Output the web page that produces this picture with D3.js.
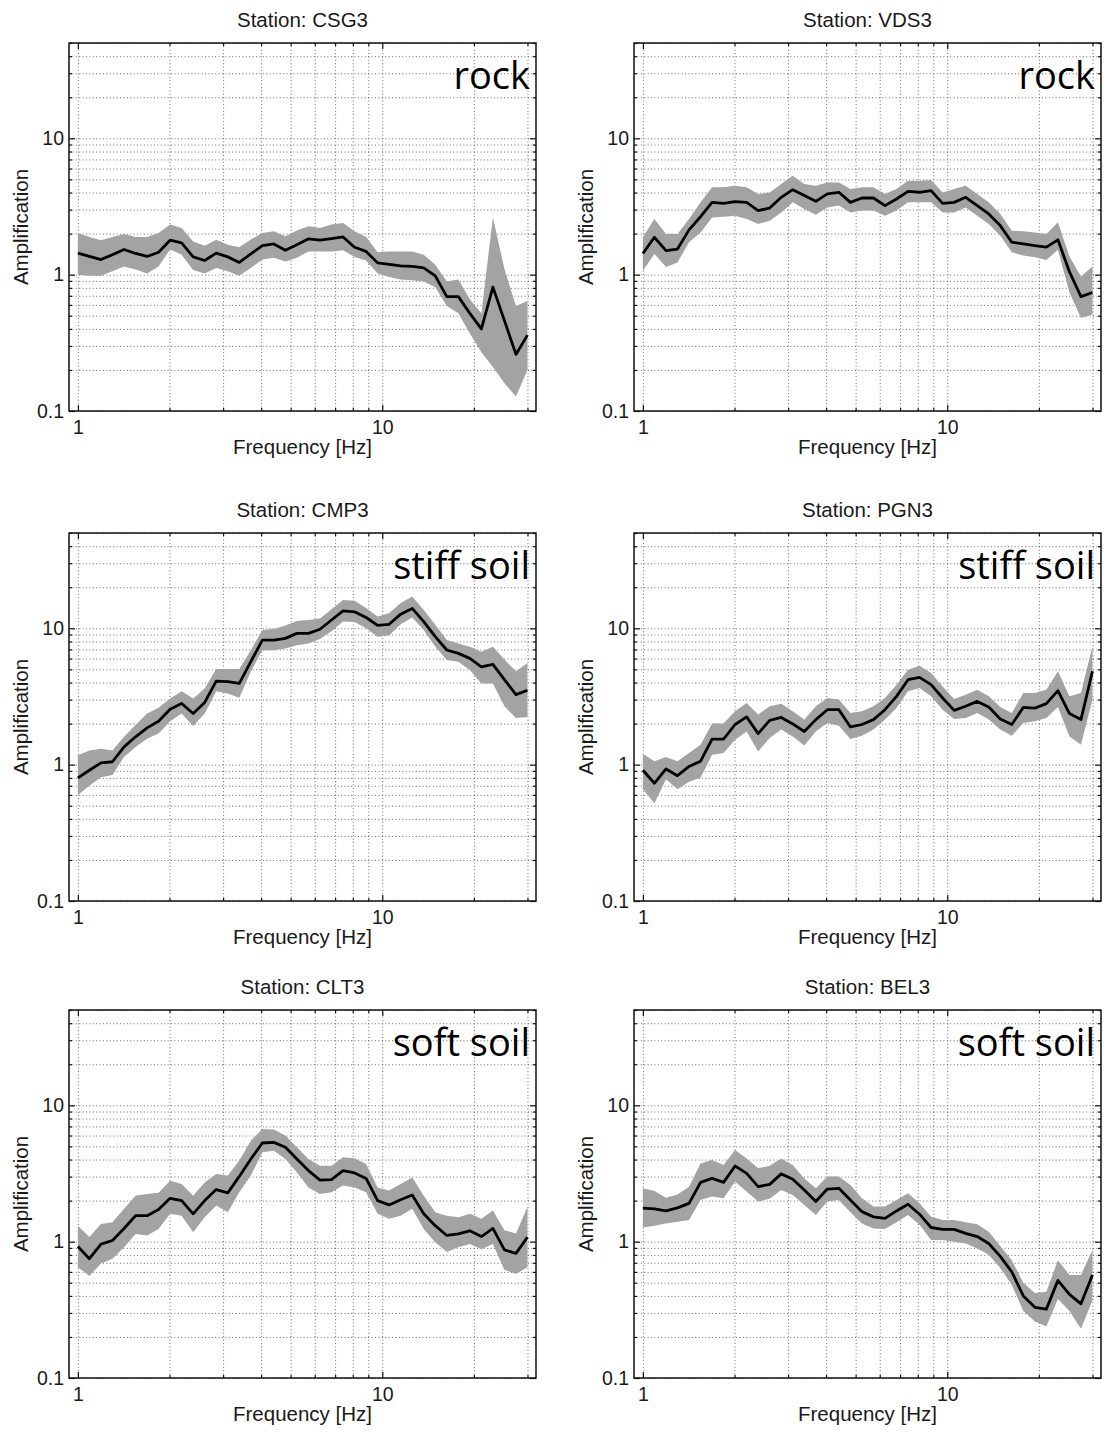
<!DOCTYPE html>
<html>
<head>
<meta charset="utf-8">
<script src="https://cdn.jsdelivr.net/npm/d3@7"></script>
<style>
  body { margin: 0; background: #fff; }
  svg text { font-family: "Liberation Sans", Arial, Helvetica, sans-serif; fill: #1a1a1a; }
</style>
</head>
<body>
<svg id="fig" width="1111" height="1438"></svg>
<script>
// Frequencies of the spectral ratios (Hz)
const freqHz = [1.000, 1.091, 1.191, 1.299, 1.418, 1.547, 1.688, 1.841, 2.009, 2.192,
                2.392, 2.610, 2.848, 3.108, 3.391, 3.700, 4.037, 4.405, 4.806, 5.244,
                5.722, 6.243, 6.812, 7.433, 8.110, 8.849, 9.656, 10.536, 11.496, 12.544,
                13.687, 14.934, 16.295, 17.780, 19.401, 21.169, 23.098, 25.203, 27.500, 30.000];

const stationNames = ["CSG3", "VDS3", "CMP3", "PGN3", "CLT3", "BEL3"];
const siteClasses = ["rock", "rock", "stiff soil", "stiff soil", "soft soil", "soft soil"];

// Mean amplification and the +/- one standard deviation envelope per station
const csg3Mean  = [1.44,1.36,1.29,1.40,1.53,1.43,1.36,1.46,1.79,1.71,1.35,1.27,1.44,1.35,1.23,1.42,1.63,1.68,1.51,1.66,1.83,1.79,1.84,1.89,1.59,1.48,1.22,1.19,1.16,1.15,1.12,0.98,0.69,0.69,0.52,0.40,0.81,0.46,0.26,0.36];
const csg3Upper = [2.02,1.89,1.79,1.89,1.99,1.89,1.89,2.02,2.33,2.20,1.75,1.63,1.80,1.66,1.59,1.81,2.02,2.08,1.91,2.11,2.26,2.20,2.33,2.39,2.08,1.89,1.46,1.48,1.48,1.48,1.40,1.18,0.89,0.92,0.66,0.52,2.62,1.10,0.59,0.64];
const csg3Lower = [1.00,0.98,0.98,1.06,1.15,1.09,1.02,1.15,1.53,1.40,1.08,1.02,1.12,1.06,0.98,1.12,1.29,1.33,1.25,1.33,1.48,1.48,1.48,1.51,1.35,1.27,1.02,0.96,0.92,0.91,0.89,0.81,0.59,0.52,0.37,0.27,0.21,0.16,0.128,0.20];

const vds3Mean  = [1.43,1.88,1.50,1.54,2.13,2.66,3.39,3.33,3.43,3.39,2.95,3.08,3.69,4.20,3.80,3.45,3.91,4.02,3.39,3.65,3.65,3.21,3.59,4.08,4.02,4.13,3.33,3.39,3.69,3.21,2.79,2.29,1.73,1.68,1.63,1.59,1.80,1.05,0.69,0.74];
const vds3Upper = [1.88,2.56,1.99,1.99,2.56,3.39,4.37,4.37,4.49,4.37,3.90,4.00,4.62,5.32,4.62,4.49,4.75,4.75,4.25,4.37,4.37,3.90,4.25,4.89,4.89,4.95,4.00,4.25,4.49,3.90,3.39,2.78,2.10,2.08,2.04,1.99,2.42,1.36,0.97,1.15];
const vds3Lower = [1.07,1.42,1.14,1.23,1.73,2.04,2.63,2.66,2.70,2.56,2.35,2.49,2.86,3.39,3.03,2.75,3.11,3.21,2.86,2.95,2.95,2.70,2.95,3.39,3.39,3.39,2.86,2.86,3.11,2.70,2.35,1.93,1.46,1.38,1.34,1.28,1.52,0.74,0.48,0.51];

const cmp3Mean  = [0.80,0.91,1.03,1.05,1.35,1.60,1.86,2.08,2.55,2.81,2.37,2.86,4.10,4.06,3.94,5.69,8.20,8.20,8.44,9.18,9.18,9.84,11.5,13.4,13.2,12.0,10.5,10.7,12.7,14.0,11.2,8.68,6.93,6.55,6.02,5.22,5.44,4.20,3.26,3.51];
const cmp3Upper = [1.17,1.27,1.31,1.27,1.60,1.95,2.37,2.61,3.06,3.46,3.06,3.62,5.03,5.03,5.03,6.91,9.72,9.90,10.5,11.3,11.5,11.8,13.8,16.1,15.9,14.1,12.2,12.9,15.3,17.1,13.6,10.6,8.20,7.75,7.31,6.74,7.31,5.90,4.84,5.57];
const cmp3Lower = [0.60,0.70,0.81,0.84,1.14,1.35,1.55,1.69,2.08,2.37,1.92,2.37,3.46,3.33,3.09,4.80,6.91,6.91,7.10,7.52,7.75,8.35,9.50,11.2,11.1,10.0,8.68,8.85,10.7,12.0,9.72,7.31,5.85,5.69,4.94,3.94,3.94,2.68,2.20,2.24];

const pgn3Mean  = [0.91,0.73,0.93,0.83,0.97,1.06,1.54,1.54,1.97,2.24,1.69,2.11,2.22,1.99,1.75,2.14,2.53,2.53,1.89,1.97,2.14,2.53,3.17,4.20,4.37,3.86,3.08,2.50,2.68,2.91,2.65,2.16,1.97,2.63,2.60,2.80,3.49,2.37,2.14,4.84];
const pgn3Upper = [1.20,1.06,1.14,1.06,1.22,1.40,2.00,2.00,2.46,2.83,2.33,2.68,2.80,2.46,2.14,2.68,3.08,3.00,2.39,2.46,2.68,3.08,3.86,4.97,5.32,4.70,3.75,3.03,3.26,3.55,3.17,2.65,2.39,3.35,3.35,3.55,4.84,3.17,3.36,7.38];
const pgn3Lower = [0.66,0.52,0.78,0.66,0.75,0.80,1.18,1.22,1.52,1.75,1.25,1.57,1.81,1.61,1.38,1.75,2.02,1.93,1.54,1.63,1.81,2.14,2.60,3.45,3.65,3.17,2.53,2.16,2.20,2.39,2.14,1.81,1.63,2.02,2.08,2.20,2.65,1.61,1.40,3.00];

const clt3Mean  = [0.92,0.75,0.96,1.02,1.25,1.55,1.55,1.72,2.08,2.00,1.60,2.00,2.41,2.28,3.01,4.04,5.29,5.35,4.92,4.04,3.32,2.83,2.85,3.32,3.19,2.91,2.00,1.86,2.03,2.20,1.60,1.31,1.11,1.14,1.20,1.09,1.25,0.87,0.82,1.08];
const clt3Upper = [1.31,1.08,1.35,1.39,1.74,2.17,2.24,2.28,2.80,2.65,2.17,2.72,3.14,3.05,3.93,5.50,6.71,6.64,6.00,4.92,4.04,3.61,3.61,4.16,4.09,3.71,2.50,2.37,2.65,2.96,2.17,1.64,1.55,1.51,1.60,1.47,1.69,1.21,1.15,1.80];
const clt3Lower = [0.65,0.56,0.69,0.75,0.91,1.14,1.11,1.24,1.60,1.55,1.17,1.51,1.84,1.64,2.30,3.05,4.52,4.65,4.04,3.22,2.50,2.24,2.30,2.58,2.50,2.30,1.60,1.47,1.55,1.74,1.24,0.99,0.84,0.91,0.96,0.88,0.96,0.62,0.58,0.65];

const bel3Mean  = [1.76,1.74,1.68,1.77,1.91,2.72,2.91,2.72,3.59,3.17,2.53,2.63,3.14,2.87,2.39,1.97,2.43,2.46,2.02,1.66,1.52,1.48,1.68,1.88,1.59,1.27,1.23,1.23,1.15,1.09,0.97,0.78,0.60,0.40,0.33,0.32,0.52,0.41,0.35,0.57];
const bel3Upper = [2.46,2.35,2.10,2.22,2.53,3.75,3.97,3.65,4.70,4.08,3.45,3.61,4.08,3.65,2.91,2.46,3.00,3.00,2.60,2.08,1.81,1.81,2.02,2.26,1.91,1.52,1.44,1.44,1.39,1.34,1.18,0.93,0.73,0.50,0.42,0.43,0.73,0.57,0.57,0.87];
const bel3Lower = [1.27,1.31,1.36,1.40,1.44,2.02,2.14,2.08,2.75,2.33,1.97,2.06,2.39,2.20,1.86,1.57,1.97,2.02,1.64,1.36,1.25,1.24,1.39,1.57,1.33,1.03,1.03,1.00,0.97,0.89,0.80,0.64,0.48,0.31,0.26,0.24,0.38,0.31,0.23,0.37];

// Axis ticks and grid positions
const xMajorTicks = [1, 10];
const xMajorLabels = ["1", "10"];
const yMajorTicks = [0.1, 1, 10];
const yMajorLabels = ["0.1", "1", "10"];
const xGridValues = [1, 2, 3, 4, 5, 6, 7, 8, 9, 10, 20, 30];
const yGridValues = [0.1, 0.2, 0.3, 0.4, 0.5, 0.6, 0.7, 0.8, 0.9, 1, 2, 3, 4, 5, 6, 7, 8, 9, 10, 20, 30, 40, 50];
const xDomain = [0.935, 32];
const yDomain = [0.1, 50];

const panels = [
  { name: stationNames[0], cls: siteClasses[0], mean: csg3Mean, upper: csg3Upper, lower: csg3Lower },
  { name: stationNames[1], cls: siteClasses[1], mean: vds3Mean, upper: vds3Upper, lower: vds3Lower },
  { name: stationNames[2], cls: siteClasses[2], mean: cmp3Mean, upper: cmp3Upper, lower: cmp3Lower },
  { name: stationNames[3], cls: siteClasses[3], mean: pgn3Mean, upper: pgn3Upper, lower: pgn3Lower },
  { name: stationNames[4], cls: siteClasses[4], mean: clt3Mean, upper: clt3Upper, lower: clt3Lower },
  { name: stationNames[5], cls: siteClasses[5], mean: bel3Mean, upper: bel3Upper, lower: bel3Lower }
];

// Layout of the 3 x 2 grid of axes
const colLeft = [69, 634];
const rowTop = [43, 533, 1010];
const W = 467, H = 368;
const labelSize = 20.5;
const tickSize = 19.5;

const svg = d3.select("#fig");

function styleGrid(sel) {
  sel.select(".domain").remove();
  sel.selectAll("line")
    .attr("stroke", "#333")
    .attr("stroke-width", 0.9)
    .attr("stroke-dasharray", "1,2.4")
    .attr("opacity", 0.8);
}
function styleTicks(sel) {
  sel.select(".domain").remove();
  sel.selectAll("line").attr("stroke", "#111").attr("stroke-width", 1.2);
  sel.selectAll("text")
    .attr("font-size", tickSize)
    .attr("fill", "#1a1a1a")
    .style("font-family", "'Liberation Sans', Arial, sans-serif");
}

panels.forEach((p, i) => {
  const left = colLeft[i % 2];
  const top = rowTop[Math.floor(i / 2)];
  const g = svg.append("g").attr("transform", `translate(${left},${top})`);

  const x = d3.scaleLog().domain(xDomain).range([0, W]);
  const y = d3.scaleLog().domain(yDomain).range([H, 0]);

  // dotted grid
  g.append("g").attr("transform", `translate(0,${H})`)
    .call(d3.axisBottom(x).tickValues(xGridValues).tickSize(-H).tickFormat(""))
    .call(styleGrid);
  g.append("g")
    .call(d3.axisLeft(y).tickValues(yGridValues).tickSize(-W).tickFormat(""))
    .call(styleGrid);

  const rows = freqHz.map((f, k) => ({ f, m: p.mean[k], u: p.upper[k], l: p.lower[k] }));

  // standard deviation envelope
  g.append("path")
    .datum(rows)
    .attr("fill", "#a3a3a3")
    .attr("d", d3.area().x(d => x(d.f)).y0(d => y(d.l)).y1(d => y(d.u)));

  // mean amplification
  g.append("path")
    .datum(rows)
    .attr("fill", "none")
    .attr("stroke", "#000")
    .attr("stroke-width", 2.8)
    .attr("stroke-linejoin", "round")
    .attr("d", d3.line().x(d => x(d.f)).y(d => y(d.m)));

  // minor ticks on all four sides, pointing inward
  const xMinor = xGridValues.filter(v => !xMajorTicks.includes(v));
  const yMinor = yGridValues.filter(v => !yMajorTicks.includes(v));
  g.append("g").attr("transform", `translate(0,${H})`)
    .call(d3.axisBottom(x).tickValues(xMinor).tickSize(-3).tickFormat("")).call(styleTicks);
  g.append("g")
    .call(d3.axisTop(x).tickValues(xMinor).tickSize(-3).tickFormat("")).call(styleTicks);
  g.append("g")
    .call(d3.axisLeft(y).tickValues(yMinor).tickSize(-3).tickFormat("")).call(styleTicks);
  g.append("g").attr("transform", `translate(${W},0)`)
    .call(d3.axisRight(y).tickValues(yMinor).tickSize(-3).tickFormat("")).call(styleTicks);

  // major ticks with labels
  g.append("g").attr("transform", `translate(0,${H})`)
    .call(d3.axisBottom(x).tickValues(xMajorTicks).tickSize(-6).tickPadding(9)
      .tickFormat((d, j) => xMajorLabels[j]))
    .call(styleTicks);
  g.append("g")
    .call(d3.axisTop(x).tickValues(xMajorTicks).tickSize(-6).tickFormat(""))
    .call(styleTicks);
  g.append("g")
    .call(d3.axisLeft(y).tickValues(yMajorTicks).tickSize(-6).tickPadding(5)
      .tickFormat((d, j) => yMajorLabels[j]))
    .call(styleTicks);
  g.append("g").attr("transform", `translate(${W},0)`)
    .call(d3.axisRight(y).tickValues(yMajorTicks).tickSize(-6).tickFormat(""))
    .call(styleTicks);

  // axes box
  g.append("rect")
    .attr("width", W).attr("height", H)
    .attr("fill", "none").attr("stroke", "#111").attr("stroke-width", 1.5);

  // titles and axis labels
  g.append("text")
    .attr("x", W / 2).attr("y", -16)
    .attr("text-anchor", "middle").attr("font-size", labelSize)
    .text(`Station: ${p.name}`);
  g.append("text")
    .attr("x", W / 2).attr("y", H + 43)
    .attr("text-anchor", "middle").attr("font-size", labelSize)
    .text("Frequency [Hz]");
  g.append("text")
    .attr("transform", `translate(-41,${H / 2}) rotate(-90)`)
    .attr("text-anchor", "middle").attr("font-size", labelSize)
    .text("Amplification");

  // site class annotation
  g.append("text")
    .attr("x", W - 6).attr("y", 46)
    .attr("text-anchor", "end")
    .attr("font-size", 38)
    .style("font-family", "'Open Sans', 'Noto Sans', sans-serif")
    .style("fill", "#000")
    .text(p.cls);
});
</script>
</body>
</html>
